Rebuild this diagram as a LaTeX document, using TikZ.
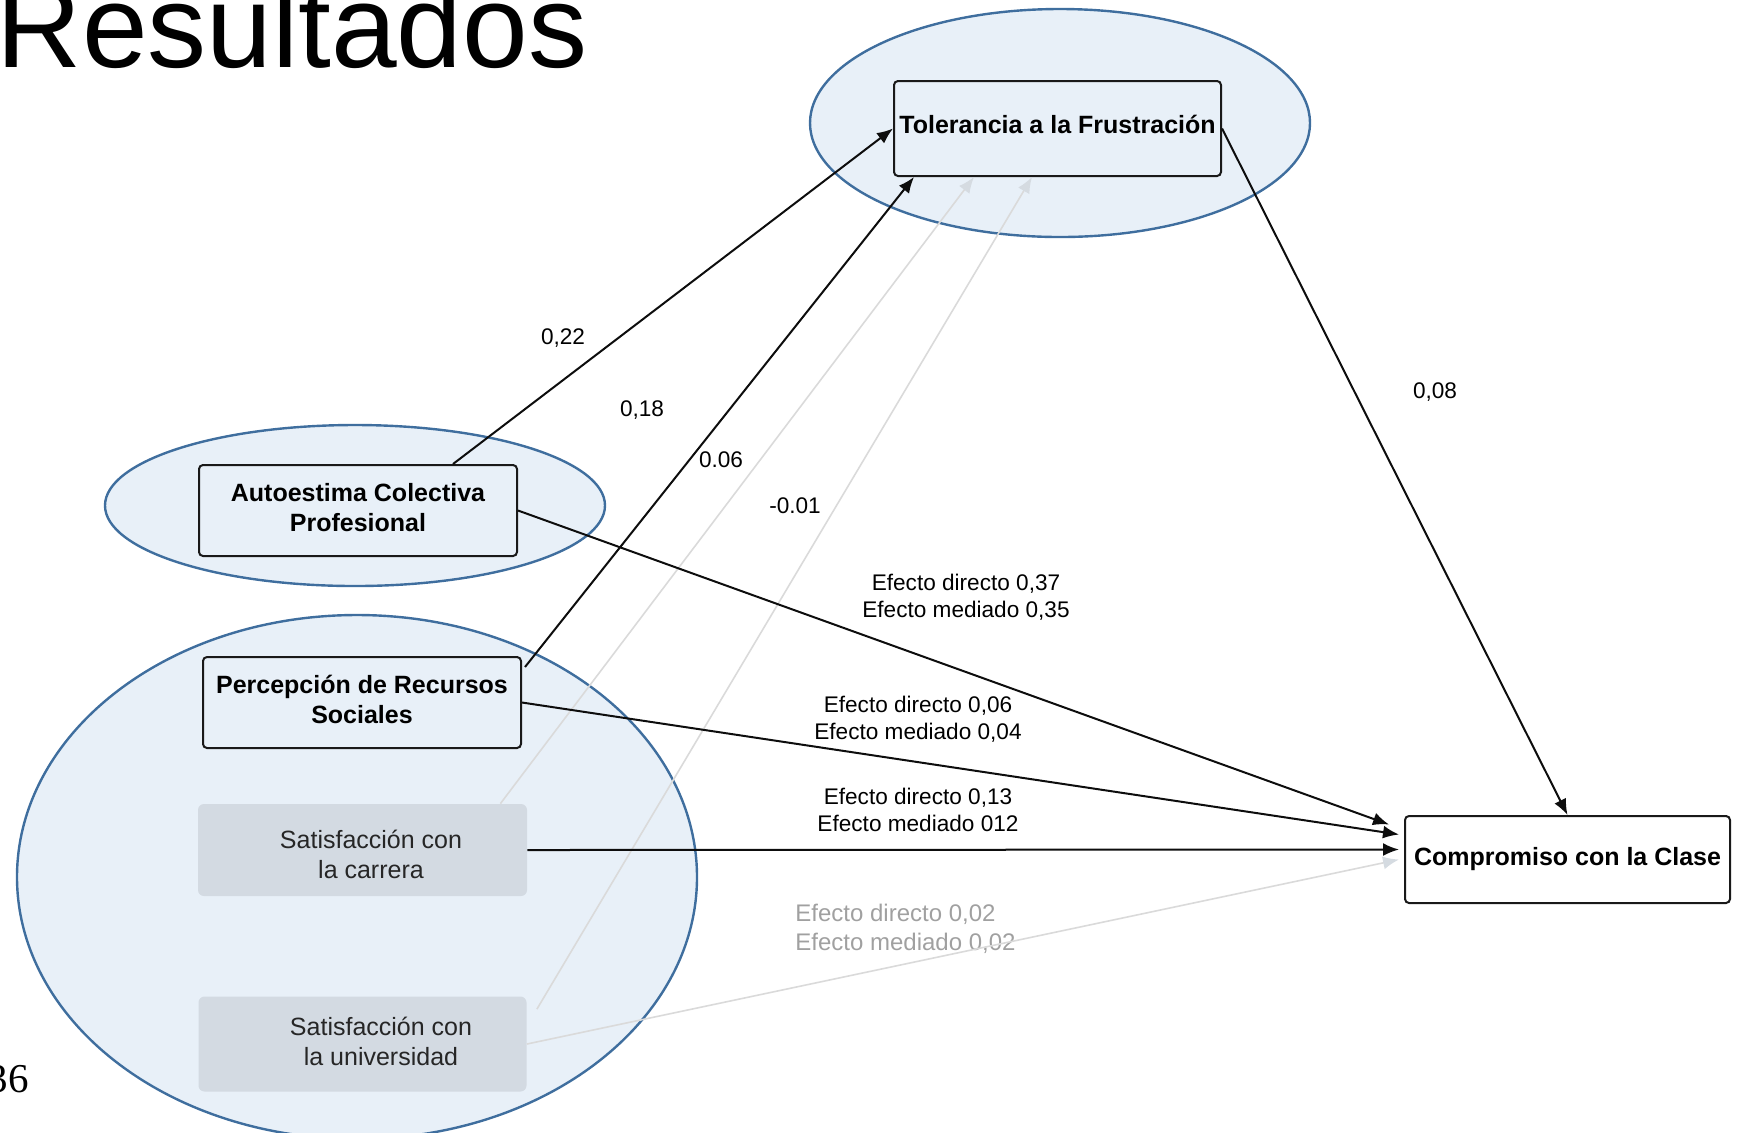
\documentclass[tikz,border=0pt]{standalone}
\usepackage{fontspec}
\setmainfont{Liberation Sans}
\newfontfamily\pagefont{Liberation Serif}
\usetikzlibrary{arrows.meta,calc}

\definecolor{grpfill}{RGB}{232,240,248}
\definecolor{grpline}{RGB}{63,110,158}
\definecolor{satfill}{RGB}{211,218,226}
\definecolor{faint}{RGB}{218,218,218}
\definecolor{fainttip}{RGB}{213,219,225}
\definecolor{fainttext}{RGB}{160,160,160}

\tikzset{
  grp/.style={draw=grpline,fill=grpfill,line width=1.2pt},
  var/.style={draw=black!90,line width=1pt,rounded corners=2pt,fill=grpfill,inner sep=0pt,align=center,font=\fontsize{12.5pt}{15pt}\selectfont\bfseries},
  sat/.style={fill=satfill,rounded corners=3pt,inner sep=0pt},
  sattext/.style={align=center,inner sep=0pt,text=black!85,font=\fontsize{12.5pt}{15pt}\selectfont},
  coef/.style={align=center,inner sep=0pt,font=\fontsize{11.3pt}{13.75pt}\selectfont},
  arr/.style={line width=1pt,draw=black!95,-{Latex[length=8pt,width=6.5pt]}},
  weak/.style={line width=0.8pt,draw=faint,-{Latex[length=8pt,width=6.5pt,color=fainttip]}},
}

\begin{document}
\begin{tikzpicture}[x=0.5pt,y=-0.5pt]
\useasboundingbox (0,0) rectangle (1738,1132);
% groups
\draw[grp] (1060,123) ellipse [x radius=250,y radius=114];
\draw[grp] (355,505.5) ellipse [x radius=250,y radius=80.5];
\draw[grp] (357,877) ellipse [x radius=340,y radius=262];
\node[anchor=base west,inner sep=0pt,font=\fontsize{59pt}{70pt}\selectfont] (title) at (-3.5,67) {Resultados};
\node[anchor=base east,inner sep=0pt,font=\pagefont\fontsize{20.5pt}{24pt}\selectfont] (pg) at (29,1092) {36};
\node[var,text depth=4.4pt,minimum width=163.5pt,minimum height=47.5pt] (v1) at (1057.5,128.5) {Tolerancia a la Frustración};
\node[var,text depth=3.4pt,minimum width=159pt,minimum height=45.5pt] (v2) at (358,510.5) {Autoestima Colectiva\\Profesional};
\node[var,text depth=3.4pt,minimum width=159pt,minimum height=45.5pt] (v3) at (362,702.5) {Percepción de Recursos\\Sociales};
\node[sat,minimum width=164.5pt,minimum height=46pt] (v4) at (362.5,850) {};
\node[sattext] (t4) at (371,854) {Satisfacción con\\la carrera};
\node[sat,minimum width=164pt,minimum height=47.5pt] (v5) at (362.5,1044) {};
\node[sattext] (t5) at (381,1041) {Satisfacción con\\la universidad};
\node[var,fill=white,minimum width=162.5pt,minimum height=43.5pt] (v6) at (1567.5,859.5) {Compromiso con la Clase};
% coefficients
\node[coef] (l0) at (563,338) {0,22};
\node[coef] (l1) at (642,410) {0,18};
\node[coef] (l2) at (721,460) {0.06};
\node[coef] (l3) at (795,506) {-0.01};
\node[coef] (l4) at (1435,392) {0,08};
\node[coef] (l5) at (966,597) {Efecto directo 0,37\\Efecto mediado 0,35};
\node[coef] (l6) at (918,719) {Efecto directo 0,06\\Efecto mediado 0,04};
\node[coef] (l7) at (918,810) {Efecto directo 0,13\\Efecto mediado 012};
\node[coef,align=left,anchor=west,text=fainttext,font=\fontsize{12pt}{14.2pt}\selectfont] (l8) at (795,929) {Efecto directo 0,02\\Efecto mediado 0,02};
% paths
\draw [arr] ($(v2.north)+(95,0)$) -- (v1.west);
\draw [arr] ($(v3.north east)+(3,11)$) -- ($(v1.south west)+(21,0)$);
\draw [weak] ($(v4.north east)+(-27,0)$) -- ($(v1.south west)+(81,0)$);
\draw [weak] ($(v5.north east)+(10,13)$) -- ($(v1.south west)+(139,0)$);
\draw [arr] (v1.east) -- (v6.north);
\draw [arr] (v2.east) -- ($(v6.west)+(-15,-35)$);
\draw [arr] (v3.east) -- ($(v6.west)+(-5,-25)$);
\draw [arr] (v4.east) -- ($(v6.west)+(-5,-10)$);
\draw [weak] (v5.east) -- ($(v6.west)+(-5,0)$);
\end{tikzpicture}
\end{document}
